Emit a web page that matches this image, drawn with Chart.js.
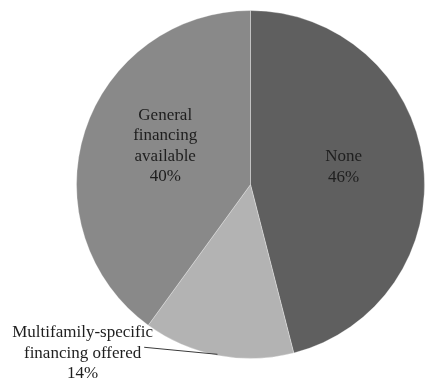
<!DOCTYPE html>
<html>
<head>
<meta charset="utf-8">
<script src="https://cdn.jsdelivr.net/npm/chart.js@4"></script>
<style>
  html, body { margin: 0; padding: 0; background: #fff; }
  #wrap { width: 425px; height: 383px; }
</style>
</head>
<body>
<div id="wrap"><canvas id="graph" width="425" height="383"></canvas></div>
<script>
// Sources of financing
var categories = ['None', 'Multifamily-specific financing offered', 'General financing available'];
var shares = [46, 14, 40];
var colors = ['#5f5f5f', '#b3b3b3', '#898989'];
// Label text lines per slice
var labelLines = [
    ['None'],
    ['Multifamily-specific', 'financing offered'],
    ['General', 'financing', 'available']
];

// Label placement: offset from pie centre in units of radius
var labelPos = [
    { dx: 0.535, dy: -0.10 },
    { dx: -0.965, dy: 0.97, leaderAngle: 191 },
    { dx: -0.49, dy: -0.22 }
];

var sliceLabels = {
    id: 'sliceLabels',
    afterDatasetsDraw: function (chart) {
        var ctx = chart.ctx;
        var meta = chart.getDatasetMeta(0);
        ctx.save();
        ctx.font = '17px "Liberation Serif", "Times New Roman", serif';
        ctx.fillStyle = '#1e1e1e';
        ctx.textAlign = 'center';
        ctx.textBaseline = 'middle';
        meta.data.forEach(function (arc, i) {
            var r = arc.outerRadius;
            var lines = labelLines[i].concat([shares[i] + '%']);
            var cx = arc.x + labelPos[i].dx * r;
            var cy = arc.y + labelPos[i].dy * r;
            var lh = 20.5;
            var y0 = cy - (lines.length - 1) * lh / 2;
            lines.forEach(function (t, k) {
                ctx.fillText(t, cx, y0 + k * lh);
            });
            if (labelPos[i].leaderAngle !== undefined) {
                var a = labelPos[i].leaderAngle * Math.PI / 180;
                var ex = arc.x + Math.sin(a) * (r - 1);
                var ey = arc.y - Math.cos(a) * (r - 1);
                var w = ctx.measureText(lines[1]).width;
                ctx.strokeStyle = '#3a3a3a';
                ctx.lineWidth = 1;
                ctx.beginPath();
                ctx.moveTo(cx + w / 2 + 3, y0 + lh - 6);
                ctx.lineTo(ex, ey);
                ctx.stroke();
            }
        });
        ctx.restore();
    }
};

new Chart(document.getElementById('graph'), {
    type: 'pie',
    data: {
        labels: categories,
        datasets: [{
            data: shares,
            backgroundColor: colors,
            borderColor: 'rgba(255,255,255,0.3)',
            borderWidth: 1
        }]
    },
    options: {
        responsive: false,
        animation: false,
        layout: { padding: { left: 76, right: 0, top: 10, bottom: 24 } },
        plugins: {
            legend: { display: false },
            tooltip: { enabled: false }
        }
    },
    plugins: [sliceLabels]
});
</script>
</body>
</html>
